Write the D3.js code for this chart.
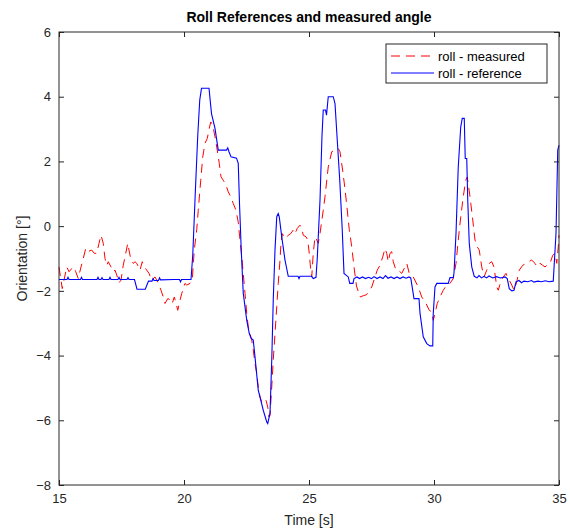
<html>
<head>
<meta charset="utf-8">
<title>Roll References and measured angle</title>
<style>
    body { margin: 0; background: #fff; }
    svg { font-family: "Liberation Sans", Arial, sans-serif; }
    .tick line { stroke: #262626; }
    .tick text { font-size: 13px; fill: #262626; }
</style>
<script src="https://d3js.org/d3.v7.min.js"></script>
</head>
<body>
<script>
const xTicks = [15, 20, 25, 30, 35];
const yTicks = [-8, -6, -4, -2, 0, 2, 4, 6];

// roll - reference (blue)
const refT = [15.00, 15.32, 15.36, 15.40, 15.86, 15.90, 15.94, 16.52, 16.56, 16.60, 16.68, 16.72, 16.76,
    17.00, 17.04, 17.08, 17.36, 17.40, 17.44, 17.72, 17.76, 17.80, 18.02, 18.12, 18.45, 18.58, 18.72,
    18.76, 18.80, 18.98, 19.02, 19.06, 19.60, 19.82, 19.86, 19.90, 20.28, 20.35, 20.45, 20.55, 20.63,
    20.70, 21.00, 21.10, 21.24, 21.31, 21.37, 21.70, 21.75, 21.80, 21.88, 22.10, 22.17, 22.22, 22.29,
    22.37, 22.51, 22.61, 22.68, 22.77, 22.84, 22.97, 23.07, 23.17, 23.31, 23.35, 23.44, 23.51, 23.57,
    23.64, 23.71, 23.77, 23.81, 23.91, 24.04, 24.17, 24.56, 24.60, 24.64, 25.10, 25.17, 25.28, 25.33,
    25.44, 25.52, 25.57, 25.66, 25.70, 25.77, 25.97, 26.04, 26.13, 26.23, 26.33, 26.40, 26.57, 26.63,
    26.76, 26.80, 26.92, 27.02, 27.14, 27.26, 27.38, 27.50, 27.60, 27.72, 27.84, 27.96, 28.06, 28.16,
    28.28, 28.40, 28.52, 28.64, 28.76, 28.88, 29.00, 29.07, 29.20, 29.40, 29.44, 29.57, 29.71, 29.84,
    29.95, 29.97, 30.04, 30.11, 30.57, 30.64, 30.77, 30.80, 30.88, 30.97, 31.07, 31.13, 31.21, 31.25,
    31.31, 31.35, 31.41, 31.51, 31.61, 31.72, 31.80, 31.90, 32.00, 32.10, 32.20, 32.35, 32.50, 32.65,
    32.84, 32.93, 33.01, 33.11, 33.20, 33.28, 33.40, 33.50, 33.60, 33.75, 33.90, 34.00, 34.15, 34.30,
    34.45, 34.60, 34.77, 34.88, 34.95, 35.00];
const refV = [-1.65, -1.65, -1.58, -1.65, -1.65, -1.58, -1.65, -1.65, -1.58, -1.65, -1.65, -1.59, -1.65,
    -1.65, -1.58, -1.65, -1.65, -1.58, -1.65, -1.65, -1.59, -1.65, -1.65, -1.95, -1.95, -1.70, -1.70,
    -1.62, -1.68, -1.68, -1.60, -1.66, -1.65, -1.65, -1.72, -1.65, -1.65, -0.90, 1.00, 2.80, 3.90,
    4.26, 4.26, 3.48, 3.02, 2.66, 2.35, 2.35, 2.42, 2.30, 2.14, 2.10, 1.94, 0.70, -0.74,
    -2.07, -2.91, -3.31, -3.46, -3.52, -4.04, -5.07, -5.38, -5.69, -6.05, -6.10, -5.78, -4.14, -2.29,
    -0.74, 0.29, 0.39, 0.29, -0.33, -1.05, -1.55, -1.55, -1.62, -1.55, -1.55, -1.62, -1.58, -1.00,
    0.80, 2.80, 3.59, 3.59, 3.43, 4.00, 4.00, 3.79, 2.66, 1.42, -0.12, -1.46, -1.57, -1.77,
    -1.77, -1.62, -1.57, -1.62, -1.57, -1.62, -1.58, -1.62, -1.56, -1.62, -1.57, -1.62, -1.53, -1.61,
    -1.57, -1.62, -1.57, -1.62, -1.57, -1.61, -1.57, -1.60, -2.24, -2.24, -2.69, -3.42, -3.63, -3.70,
    -3.70, -2.70, -1.88, -1.77, -1.77, -1.59, -1.59, -1.45, -0.23, 1.83, 3.07, 3.33, 3.33, 2.09,
    2.09, 0.80, -0.53, -1.26, -1.55, -1.60, -1.53, -1.60, -1.55, -1.60, -1.54, -1.60, -1.56, -1.60,
    -1.57, -1.62, -1.93, -2.00, -1.98, -1.72, -1.68, -1.75, -1.70, -1.72, -1.68, -1.73, -1.70, -1.72,
    -1.69, -1.72, -1.70, -0.23, 2.35, 2.50];

// roll - measured (red, dashed)
const measT = [15.00, 15.13, 15.31, 15.40, 15.51, 15.60, 15.67, 15.77, 15.88, 15.97, 16.07, 16.15, 16.31,
    16.41, 16.51, 16.60, 16.68, 16.77, 16.84, 16.91, 16.97, 17.08, 17.17, 17.24, 17.31, 17.40, 17.48,
    17.57, 17.67, 17.75, 17.80, 17.88, 17.97, 18.04, 18.11, 18.24, 18.33, 18.41, 18.51, 18.60, 18.71,
    18.84, 18.91, 19.00, 19.08, 19.17, 19.24, 19.35, 19.44, 19.53, 19.61, 19.67, 19.75, 19.84, 19.91,
    19.97, 20.04, 20.11, 20.24, 20.33, 20.41, 20.51, 20.57, 20.67, 20.75, 20.84, 20.93, 21.01, 21.07,
    21.15, 21.24, 21.33, 21.41, 21.48, 21.57, 21.68, 21.77, 21.87, 21.97, 22.08, 22.17, 22.24, 22.31,
    22.37, 22.44, 22.51, 22.57, 22.64, 22.71, 22.77, 22.84, 22.91, 22.97, 23.04, 23.11, 23.20, 23.28,
    23.35, 23.40, 23.44, 23.51, 23.57, 23.64, 23.71, 23.77, 23.84, 23.88, 23.93, 24.00, 24.08, 24.17,
    24.27, 24.37, 24.44, 24.53, 24.64, 24.71, 24.77, 24.88, 24.95, 25.01, 25.07, 25.11, 25.17, 25.24,
    25.31, 25.37, 25.44, 25.57, 25.64, 25.77, 25.91, 26.04, 26.17, 26.24, 26.35, 26.44, 26.53, 26.61,
    26.71, 26.80, 26.90, 27.04, 27.17, 27.30, 27.51, 27.64, 27.73, 27.84, 27.95, 28.04, 28.11, 28.17,
    28.24, 28.31, 28.37, 28.48, 28.57, 28.71, 28.84, 28.91, 29.01, 29.17, 29.37, 29.51, 29.68, 29.81,
    29.91, 29.97, 30.04, 30.13, 30.24, 30.37, 30.51, 30.64, 30.77, 30.88, 30.97, 31.07, 31.17, 31.27,
    31.33, 31.44, 31.55, 31.64, 31.73, 31.81, 31.91, 32.00, 32.11, 32.21, 32.31, 32.40, 32.51, 32.57,
    32.67, 32.77, 32.88, 32.93, 33.01, 33.11, 33.20, 33.31, 33.41, 33.55, 33.68, 33.77, 33.91, 34.04,
    34.13, 34.24, 34.35, 34.44, 34.53, 34.64, 34.75, 34.84, 34.91, 34.97, 35.00];
const measV = [-1.26, -1.93, -1.26, -1.41, -1.31, -1.26, -1.41, -1.62, -1.26, -1.00, -0.69, -0.79, -0.74,
    -0.84, -0.84, -0.53, -0.28, -0.53, -1.00, -1.21, -1.10, -1.26, -1.41, -1.36, -1.51, -1.75, -1.67,
    -1.21, -0.84, -0.53, -0.74, -1.05, -1.15, -1.10, -1.15, -1.36, -1.10, -1.26, -1.36, -1.46, -1.67,
    -1.57, -1.67, -1.82, -1.98, -2.19, -2.39, -2.24, -2.27, -2.39, -2.19, -2.34, -2.60, -2.29, -2.08,
    -1.93, -1.77, -1.82, -1.77, -1.67, -0.74, -0.10, 0.49, 1.42, 2.14, 2.56, 2.71, 3.02, 3.22,
    3.12, 2.76, 2.35, 1.94, 1.52, 1.42, 1.27, 1.06, 0.91, 0.70, 0.49, 0.12, -0.43, -0.95,
    -1.46, -2.08, -2.70, -3.11, -3.32, -3.52, -3.83, -4.24, -4.55, -4.97, -5.28, -5.43, -5.48, -5.38,
    -5.59, -5.90, -5.85, -4.97, -4.14, -3.32, -2.49, -1.77, -1.05, -0.53, -0.23, -0.33, -0.38, -0.28,
    -0.23, -0.12, -0.23, -0.07, 0.03, -0.07, -0.28, -0.33, -0.43, -0.84, -1.36, -1.57, -0.84, -0.33,
    -0.43, -0.53, -0.23, 0.49, 0.91, 1.83, 2.30, 2.35, 2.40, 2.30, 1.70, 1.15, 0.50, -0.10,
    -0.64, -1.26, -1.85, -2.19, -2.15, -2.12, -1.88, -1.57, -1.36, -1.21, -0.95, -0.69, -0.84, -1.10,
    -0.84, -0.79, -1.10, -1.36, -1.36, -1.46, -1.26, -1.15, -1.46, -1.57, -1.88, -2.19, -2.39, -2.60,
    -2.65, -2.91, -2.70, -2.39, -2.19, -1.98, -1.82, -1.77, -1.62, -1.15, -0.43, 0.29, 0.91, 1.42,
    1.52, 0.91, 0.19, -0.43, -0.64, -0.74, -1.26, -1.57, -1.36, -1.15, -1.10, -1.26, -1.88, -1.98,
    -1.72, -1.57, -1.46, -1.57, -1.67, -1.82, -1.98, -1.72, -1.36, -1.21, -1.15, -1.10, -1.05, -1.15,
    -1.26, -1.15, -1.21, -1.26, -1.20, -1.15, -0.90, -0.84, -1.15, -0.64, -0.28];

const width = 570, height = 528;
const margin = { top: 32, right: 11, bottom: 43, left: 59 };
const plotW = width - margin.left - margin.right,
    plotH = height - margin.top - margin.bottom;

const x = d3.scaleLinear().domain([15, 35]).range([0, plotW]);
const y = d3.scaleLinear().domain([-8, 6]).range([plotH, 0]);

const svg = d3.select('body').append('svg')
    .attr('width', width)
    .attr('height', height);

const g = svg.append('g')
    .attr('transform', `translate(${margin.left},${margin.top})`);

g.append('rect')
    .attr('width', plotW).attr('height', plotH)
    .attr('fill', '#fff');

const line = d3.line()
    .x(d => x(d[0]))
    .y(d => y(d[1]));

const measured = measT.map((t, i) => [t, measV[i]]);
const reference = refT.map((t, i) => [t, refV[i]]);

g.append('path')
    .datum(measured)
    .attr('fill', 'none')
    .attr('stroke', '#ff0000')
    .attr('stroke-width', 1)
    .attr('stroke-dasharray', '9,6')
    .attr('d', line);

g.append('path')
    .datum(reference)
    .attr('fill', 'none')
    .attr('stroke', '#0000ff')
    .attr('stroke-width', 1.1)
    .attr('d', line);

// axes, ticks pointing inward (box on)
g.append('g')
    .attr('transform', `translate(0,${plotH})`)
    .call(d3.axisBottom(x).tickValues(xTicks).tickSize(-5).tickPadding(9))
    .call(a => a.select('.domain').remove());

g.append('g')
    .call(d3.axisTop(x).tickValues(xTicks).tickSize(-5).tickFormat(''))
    .call(a => a.select('.domain').remove());

g.append('g')
    .call(d3.axisLeft(y).tickValues(yTicks).tickSize(-5).tickPadding(8))
    .call(a => a.select('.domain').remove());

g.append('g')
    .attr('transform', `translate(${plotW},0)`)
    .call(d3.axisRight(y).tickValues(yTicks).tickSize(-5).tickFormat(''))
    .call(a => a.select('.domain').remove());

g.selectAll('.tick text').style('font-family', null).attr('font-size', 13);

g.append('rect')
    .attr('width', plotW).attr('height', plotH)
    .attr('fill', 'none')
    .attr('stroke', '#262626')
    .attr('stroke-width', 1);

// legend
const legend = g.append('g')
    .attr('transform', `translate(${386 - margin.left},${44 - margin.top})`);

legend.append('rect')
    .attr('width', 161).attr('height', 39)
    .attr('fill', '#fff')
    .attr('stroke', '#262626')
    .attr('stroke-width', 1);

const entries = [
    { name: 'roll - measured', color: '#ff0000', dash: '9,6' },
    { name: 'roll - reference', color: '#0000ff', dash: null }
];

entries.forEach((e, i) => {
    const yy = 12 + i * 17;
    legend.append('line')
        .attr('x1', 5).attr('x2', 48)
        .attr('y1', yy).attr('y2', yy)
        .attr('stroke', e.color)
        .attr('stroke-width', 1)
        .attr('stroke-dasharray', e.dash);
    legend.append('text')
        .attr('x', 52).attr('y', yy)
        .attr('dy', '0.35em')
        .attr('font-size', 13)
        .attr('fill', '#000')
        .text(e.name);
});

// titles
svg.append('text')
    .attr('x', margin.left + plotW / 2)
    .attr('y', 22)
    .attr('text-anchor', 'middle')
    .attr('font-size', 14)
    .attr('font-weight', 'bold')
    .text('Roll References and measured angle');

svg.append('text')
    .attr('x', margin.left + plotW / 2)
    .attr('y', 525)
    .attr('text-anchor', 'middle')
    .attr('font-size', 14)
    .attr('fill', '#262626')
    .text('Time [s]');

svg.append('text')
    .attr('transform', `translate(27,${margin.top + plotH / 2}) rotate(-90)`)
    .attr('text-anchor', 'middle')
    .attr('font-size', 14)
    .attr('fill', '#262626')
    .text('Orientation [°]');
</script>
</body>
</html>
